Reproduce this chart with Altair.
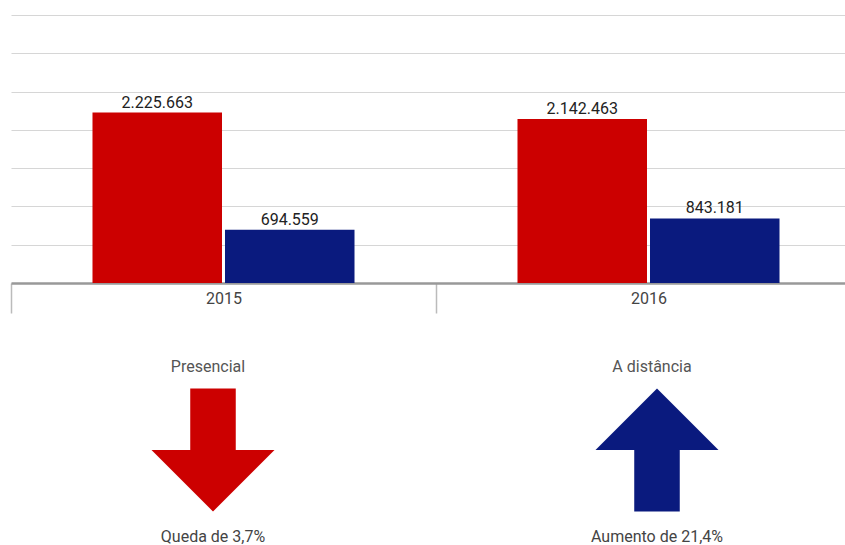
import altair as alt
import pandas as pd

# ---- data ----
anos = ["2015", "2015", "2016", "2016"]
modalidade = ["Presencial", "A distância", "Presencial", "A distância"]
matriculas = [2225663, 694559, 2142463, 843181]

tipos = ["Presencial", "A distância"]
legendas = ["Queda de 3,7%", "Aumento de 21,4%"]
y_ticks = [0, 500000, 1000000, 1500000, 2000000, 2500000, 3000000, 3500000]

cores = ["#CC0000", "#0A1A7E"]
seta_baixo = "M-0.37,-1L0.37,-1L0.37,0L1,0L0,1L-1,0L-0.37,0Z"
seta_cima = "M0,-1L1,0L0.37,0L0.37,1L-0.37,1L-0.37,0L-1,0Z"

df = pd.DataFrame({"ano": anos, "tipo": modalidade, "valor": matriculas})
df_b = pd.DataFrame({"tipo": tipos, "legenda": legendas})

FONT = "Roboto"
color = alt.Color("tipo:N", scale=alt.Scale(domain=tipos, range=cores), legend=None)

base = alt.Chart(df).encode(
    x=alt.X(
        "ano:N",
        scale=alt.Scale(range=[0, 850], paddingInner=0, paddingOuter=0),
        axis=alt.Axis(
            title=None, labelAngle=0, orient="bottom", offset=-262,
            tickBand="extent", tickSize=30, tickColor="#bbbbbb", tickWidth=1.5,
            domainColor="#999999", domainWidth=2.5,
            labelFont=FONT, labelFontSize=16, labelColor="#444444",
            labelBaseline="middle", labelPadding=-15, grid=False,
        ),
    ),
    xOffset=alt.XOffset("tipo:N", sort=tipos,
                        scale=alt.Scale(domain=tipos, paddingInner=0.0226, paddingOuter=0.615)),
    y=alt.Y(
        "valor:Q",
        scale=alt.Scale(domain=[0, 3500000], range=[268, 0], nice=False),
        axis=alt.Axis(title=None, labels=False, ticks=False, domain=False, values=y_ticks,
                      grid=True, gridColor="#d6d6d6", gridWidth=1.2),
    ),
)

bars = base.mark_bar().encode(color=color)
labels = base.transform_calculate(
    rot="replace(format(datum.valor, ','), regexp(',', 'g'), '.')"
).mark_text(font=FONT, fontSize=16, color="#222222", baseline="alphabetic", dy=-5).encode(
    text="rot:N"
)

xb = alt.X("tipo:N", sort=tipos,
           scale=alt.Scale(domain=tipos, range=[-20, 868], paddingInner=0, paddingOuter=0),
           axis=None)

arrows = alt.Chart(df_b).mark_point(filled=True, opacity=1, size=15129, strokeWidth=0).encode(
    x=xb,
    y=alt.value(435),
    color=color,
    shape=alt.Shape("tipo:N", scale=alt.Scale(domain=tipos, range=[seta_baixo, seta_cima]), legend=None),
)

titles = alt.Chart(df_b).mark_text(font=FONT, fontSize=16, color="#555555", baseline="middle", dx=-5).encode(
    x=xb, y=alt.value(352), text="tipo:N"
)
captions = alt.Chart(df_b).mark_text(font=FONT, fontSize=16, color="#444444", baseline="middle").encode(
    x=xb, y=alt.value(522), text="legenda:N"
)

top = alt.layer(bars, labels)
bottom = alt.layer(arrows, titles, captions)

chart = alt.layer(top, bottom).resolve_scale(x="independent", xOffset="independent").properties(
    width=834, height=530,
    autosize=alt.AutoSizeParams(type="none"),
    padding={"left": 11, "top": 15, "right": 0, "bottom": 0},
).configure_view(stroke=None)

chart.save("out.html", embed_options={"renderer": "svg", "actions": False})
